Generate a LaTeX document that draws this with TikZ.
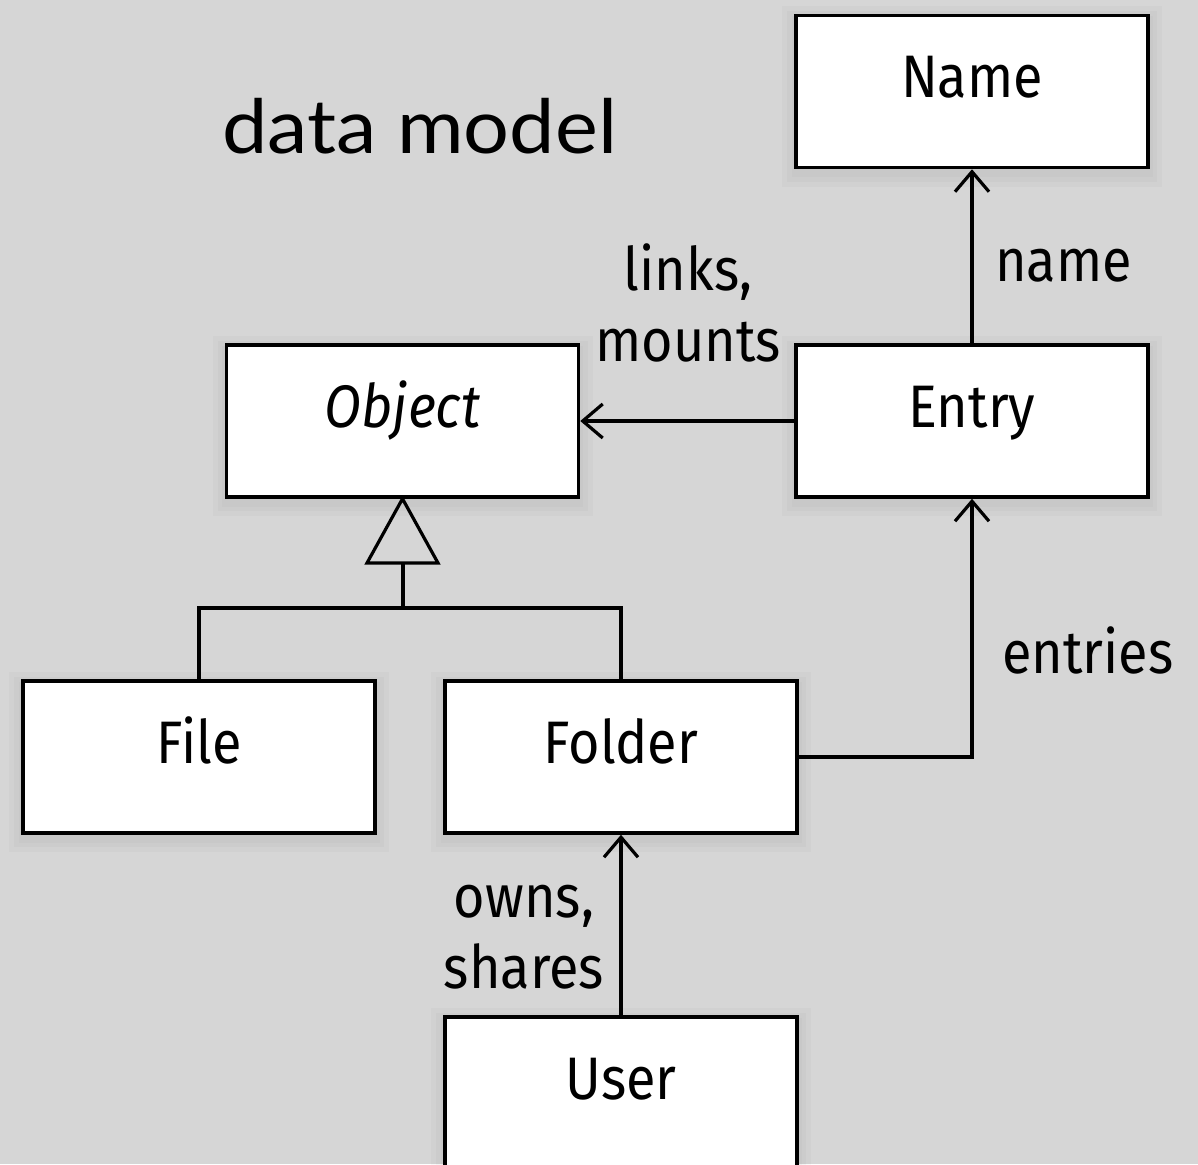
\documentclass[tikz,border=0pt]{standalone}
\usepackage{fontspec}
\setmainfont{Fira Sans}[FakeStretch=0.9]
\newfontfamily\titlefont{Lato}[FakeStretch=1.08]
\usetikzlibrary{arrows.meta}
\definecolor{bg}{RGB}{214,214,214}
\tikzset{
  halo/.style={preaction={draw=black, draw opacity=#1, fill opacity=0, transform canvas={yshift=-5pt}, line width=28pt},
               preaction={draw=black, draw opacity=#1, fill opacity=0, transform canvas={yshift=-5pt}, line width=18pt},
               preaction={draw=black, draw opacity=#1, fill opacity=0, transform canvas={yshift=-5pt}, line width=9pt}},
  umlbox/.style={draw=black, fill=white, line width=3.5pt, minimum width=352pt, minimum height=152pt,
    inner sep=0pt, text height=40pt, text depth=28pt, font=\fontsize{60}{72}\selectfont, halo=0.02},
  conn/.style={line width=3.2pt},
  assoc/.style={conn, -{Straight Barb[length=20pt,width=34pt,line width=3.2pt]}},
  lbl/.style={font=\fontsize{60}{72}\selectfont, inner sep=0pt, align=center},
}
\begin{document}
\begin{tikzpicture}[x=1pt,y=-1pt]
\fill[bg] (0,0) rectangle (1198,1164);
\useasboundingbox (0,0) rectangle (1198,1164);
\node[anchor=base west, inner sep=0pt, font=\titlefont\fontsize{75}{90}\selectfont] (title) at (222,153) {data model};
\node[umlbox] (name) at (972,91.5) {Name};
\node[umlbox] (object) at (402.5,421) {\itshape Object};
\node[umlbox] (entry) at (972,421) {Entry};
\node[umlbox] (file) at (199,757) {File};
\node[umlbox] (folder) at (621,757) {Folder};
\node[umlbox] (user) at (621,1093) {User};
% associations
\draw[assoc] (entry.north) -- (name.south);
\draw[assoc] (entry.west |- 0,421) -- (object.east |- 0,421);
\coordinate (bend) at (972,757);
\draw[assoc] (folder.east |- bend) -- (bend) -- (entry.south);
\draw[assoc] (user.north) -- (folder.south);
% labels
\node[lbl, anchor=base west] (lname) at (995,281) {name};
\node[lbl, anchor=base] (llinks) at (688,290) {links,};
\node[lbl, anchor=base] (lmounts) at (688,361) {mounts};
\node[lbl, anchor=base west] (lentries) at (1002,673) {entries};
\node[lbl, anchor=base] (lowns) at (524,917) {owns,};
\node[lbl, anchor=base] (lshares) at (524,988) {shares};
% generalization
\coordinate (apex) at (object.south);
\coordinate (tribase) at (403,563);
\coordinate (joint) at (403,608);
\draw[conn, line join=miter] (apex) -- (367,563) -- (438,563) -- cycle;
\draw[conn] (tribase) -- (joint);
\draw[conn] (file.north) -- (file.north |- joint) -- (folder.north |- joint) -- (folder.north);
\end{tikzpicture}
\end{document}
